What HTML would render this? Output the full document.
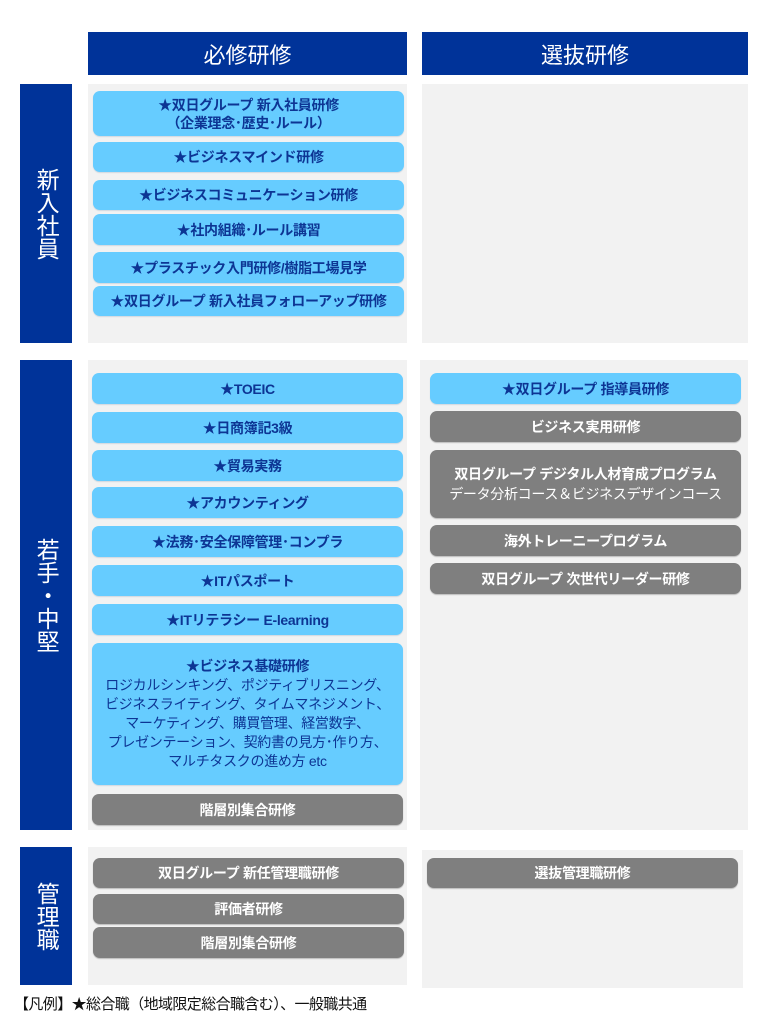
<!DOCTYPE html>
<html><head><meta charset="utf-8"><style>
body{margin:0;width:767px;height:1024px;background:#fff;position:relative;overflow:hidden;font-family:"Liberation Sans","Noto Sans CJK JP",sans-serif}
div{position:absolute;box-sizing:border-box}
.h{background:#003399;color:#fff;font-size:22px;display:flex;align-items:center;justify-content:center;top:32px;height:43px}
.s{background:#003399;color:#fff;font-size:23px;left:20px;width:52px;display:flex;align-items:center;justify-content:center;writing-mode:vertical-rl;line-height:1.05}
.p{background:#f2f2f2}
.b{border-radius:7px;display:flex;flex-direction:column;align-items:center;justify-content:center;font-size:14px;font-weight:bold;letter-spacing:-0.3px;line-height:18px;text-align:center}
.l{background:#66ccff;color:#0d3594;box-shadow:0 1px 1px #d0d8e0}
.g{background:#7f7f7f;color:#fff;box-shadow:0 1px 1px #bbb}
.n{font-weight:normal}
</style></head><body>
<div class="h" style="left:88px;width:319px">必修研修</div>
<div class="h" style="left:422px;width:326px">選抜研修</div>

<div class="s" style="top:84px;height:259px">新入社員</div>
<div class="s" style="top:360px;height:470px">若手・中堅</div>
<div class="s" style="top:847px;height:138px">管理職</div>

<div class="p" style="left:88px;top:84px;width:319px;height:259px"></div>
<div class="p" style="left:422px;top:84px;width:326px;height:259px"></div>
<div class="p" style="left:88px;top:360px;width:319px;height:470px"></div>
<div class="p" style="left:420px;top:360px;width:328px;height:470px"></div>
<div class="p" style="left:88px;top:847px;width:319px;height:138px"></div>
<div class="p" style="left:422px;top:850px;width:321px;height:138px"></div>

<div class="b l" style="left:93px;top:91px;width:311px;height:45px">★双日グループ 新入社員研修<span>（企業理念･歴史･ルール）</span></div>
<div class="b l" style="left:93px;top:142px;width:311px;height:30px">★ビジネスマインド研修</div>
<div class="b l" style="left:93px;top:180px;width:311px;height:30px">★ビジネスコミュニケーション研修</div>
<div class="b l" style="left:93px;top:214px;width:311px;height:31px">★社内組織･ルール講習</div>
<div class="b l" style="left:93px;top:252px;width:311px;height:31px">★プラスチック入門研修/樹脂工場見学</div>
<div class="b l" style="left:93px;top:286px;width:311px;height:30px">★双日グループ 新入社員フォローアップ研修</div>

<div class="b l" style="left:92px;top:373px;width:311px;height:31px">★TOEIC</div>
<div class="b l" style="left:92px;top:412px;width:311px;height:31px">★日商簿記3級</div>
<div class="b l" style="left:92px;top:450px;width:311px;height:31px">★貿易実務</div>
<div class="b l" style="left:92px;top:487px;width:311px;height:31px">★アカウンティング</div>
<div class="b l" style="left:92px;top:526px;width:311px;height:31px">★法務･安全保障管理･コンプラ</div>
<div class="b l" style="left:92px;top:565px;width:311px;height:31px">★ITパスポート</div>
<div class="b l" style="left:92px;top:604px;width:311px;height:31px">★ITリテラシー E-learning</div>
<div class="b l" style="left:92px;top:643px;width:311px;height:142px;line-height:19px">★ビジネス基礎研修<span class="n">ロジカルシンキング、ポジティブリスニング、<br>ビジネスライティング、タイムマネジメント、<br>マーケティング、購買管理、経営数字、<br>プレゼンテーション、契約書の見方･作り方、<br>マルチタスクの進め方 etc</span></div>
<div class="b g" style="left:92px;top:794px;width:311px;height:31px">階層別集合研修</div>

<div class="b l" style="left:430px;top:373px;width:311px;height:31px">★双日グループ 指導員研修</div>
<div class="b g" style="left:430px;top:411px;width:311px;height:31px">ビジネス実用研修</div>
<div class="b g" style="left:430px;top:450px;width:311px;height:68px;line-height:20px">双日グループ デジタル人材育成プログラム<span class="n">データ分析コース＆ビジネスデザインコース</span></div>
<div class="b g" style="left:430px;top:525px;width:311px;height:31px">海外トレーニープログラム</div>
<div class="b g" style="left:430px;top:563px;width:311px;height:31px">双日グループ 次世代リーダー研修</div>

<div class="b g" style="left:93px;top:858px;width:311px;height:30px">双日グループ 新任管理職研修</div>
<div class="b g" style="left:93px;top:894px;width:311px;height:30px">評価者研修</div>
<div class="b g" style="left:93px;top:927px;width:311px;height:31px">階層別集合研修</div>
<div class="b g" style="left:427px;top:858px;width:311px;height:30px">選抜管理職研修</div>

<div style="left:14px;top:993px;font-size:15px;color:#111;letter-spacing:-0.6px">【凡例】★総合職（地域限定総合職含む）、一般職共通</div>
</body></html>
